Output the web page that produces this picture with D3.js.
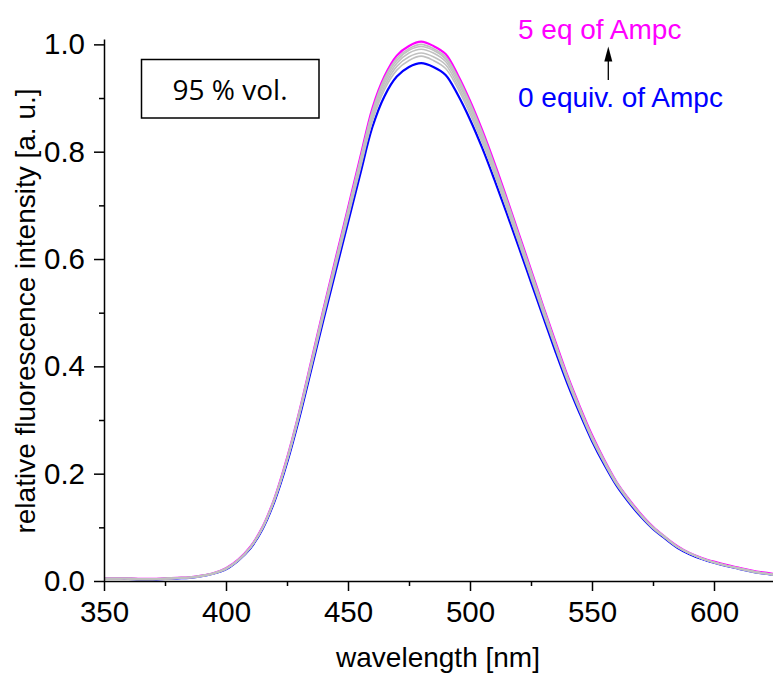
<!DOCTYPE html>
<html>
<head>
<meta charset="utf-8">
<script src="https://cdn.jsdelivr.net/npm/d3@7"></script>
<style>
  html, body { margin: 0; padding: 0; background: #fff; }
  svg { display: block; }
  text { font-family: "Liberation Sans", Arial, sans-serif; }
</style>
</head>
<body>
<svg id="chart" width="773" height="675"></svg>
<script>
// Emission wavelengths (nm)
const wavelength = [350,355,360,365,370,375,380,385,390,395,
  400,405,410,415,420,425,430,435,440,445,
  450,455,460,465,470,475,480,485,490,495,
  500,505,510,515,520,525,530,535,540,545,
  550,555,560,565,570,575,580,585,590,595,
  600,605,610,615,620,625];

// 0 equiv. of Ampc
const eq0 = [0.004,0.004,0.004,0.003,0.003,0.004,0.005,0.006,0.009,0.014,
  0.022,0.038,0.061,0.097,0.150,0.220,0.303,0.395,0.488,0.578,
  0.668,0.758,0.846,0.904,0.940,0.958,0.965,0.958,0.943,0.906,
  0.860,0.807,0.748,0.686,0.622,0.557,0.492,0.428,0.367,0.312,
  0.261,0.217,0.178,0.147,0.120,0.097,0.079,0.062,0.050,0.041,
  0.034,0.028,0.023,0.018,0.014,0.011];

// intermediate additions
const step1 = [0.004,0.004,0.004,0.003,0.003,0.004,0.005,0.006,0.009,0.014,
  0.022,0.038,0.062,0.098,0.152,0.223,0.307,0.400,0.494,0.586,
  0.677,0.768,0.857,0.916,0.952,0.970,0.978,0.970,0.955,0.918,
  0.871,0.817,0.758,0.695,0.630,0.564,0.498,0.434,0.372,0.316,
  0.264,0.220,0.180,0.149,0.122,0.098,0.080,0.063,0.051,0.042,
  0.034,0.028,0.023,0.018,0.014,0.011];
const step2 = [0.004,0.004,0.004,0.003,0.003,0.004,0.005,0.006,0.009,0.014,
  0.023,0.039,0.062,0.099,0.153,0.224,0.309,0.403,0.498,0.590,
  0.681,0.773,0.863,0.922,0.959,0.977,0.984,0.977,0.962,0.924,
  0.877,0.823,0.763,0.700,0.634,0.568,0.502,0.437,0.374,0.318,
  0.266,0.221,0.182,0.150,0.122,0.099,0.081,0.063,0.051,0.042,
  0.035,0.029,0.023,0.018,0.014,0.011];
const step3 = [0.004,0.004,0.004,0.003,0.003,0.004,0.005,0.006,0.009,0.014,
  0.023,0.039,0.063,0.100,0.154,0.226,0.311,0.406,0.501,0.594,
  0.686,0.778,0.869,0.928,0.965,0.984,0.991,0.984,0.968,0.930,
  0.883,0.829,0.768,0.705,0.639,0.572,0.505,0.440,0.377,0.320,
  0.268,0.223,0.183,0.151,0.123,0.100,0.081,0.064,0.051,0.042,
  0.035,0.029,0.024,0.019,0.015,0.011];
const step4 = [0.005,0.005,0.005,0.004,0.004,0.005,0.006,0.007,0.010,0.015,
  0.023,0.039,0.063,0.100,0.155,0.227,0.313,0.408,0.504,0.596,
  0.689,0.782,0.873,0.933,0.970,0.989,0.996,0.989,0.973,0.935,
  0.888,0.833,0.772,0.708,0.642,0.575,0.508,0.442,0.379,0.322,
  0.269,0.224,0.184,0.152,0.124,0.100,0.082,0.064,0.052,0.042,
  0.035,0.029,0.024,0.019,0.015,0.012];
const step5 = [0.005,0.005,0.005,0.004,0.004,0.005,0.006,0.007,0.010,0.015,
  0.024,0.039,0.063,0.100,0.155,0.228,0.314,0.409,0.506,0.599,
  0.692,0.785,0.876,0.937,0.974,0.992,1.000,0.992,0.977,0.939,
  0.891,0.836,0.775,0.711,0.644,0.577,0.510,0.443,0.380,0.323,
  0.270,0.225,0.184,0.152,0.124,0.100,0.082,0.064,0.052,0.042,
  0.035,0.029,0.024,0.019,0.015,0.012];

// 5 eq of Ampc
const eq5 = [0.005,0.005,0.005,0.004,0.004,0.005,0.006,0.007,0.010,0.015,
  0.024,0.040,0.064,0.101,0.156,0.229,0.315,0.411,0.508,0.602,
  0.695,0.789,0.881,0.941,0.979,0.997,1.005,0.997,0.982,0.943,
  0.895,0.840,0.779,0.714,0.647,0.580,0.512,0.446,0.382,0.325,
  0.272,0.226,0.185,0.153,0.125,0.101,0.082,0.065,0.052,0.043,
  0.036,0.030,0.025,0.020,0.016,0.013];

// Axis ticks
const xMajor = [350, 400, 450, 500, 550, 600];
const xMinor = [375, 425, 475, 525, 575, 625];
const yMajor = [0.0, 0.2, 0.4, 0.6, 0.8, 1.0];
const yMinor = [0.1, 0.3, 0.5, 0.7, 0.9];

const xTitle = "wavelength [nm]";
const yTitle = "relative fluorescence intensity [a. u.]";
const labelTop = "5 eq of Ampc";
const labelBottom = "0 equiv. of Ampc";
const boxLabel = "95 % vol.";

const svg = d3.select("#chart");
const x = d3.scaleLinear().domain([350, 625]).range([104, 775]);
const y = d3.scaleLinear().domain([0, 1.01]).range([581, 39]);

const FS = 28;
const TICK_FS = 29.5;

// plot clip
svg.append("clipPath").attr("id", "plotClip")
  .append("rect").attr("x", 104).attr("y", 0).attr("width", 669).attr("height", 581);

// series: draw order blue, magenta, then grey steps
const series = [
  { values: eq0, color: "#0000ff", width: 2.2 },
  { values: eq5, color: "#ff00ff", width: 2.2 },
  { values: step1, color: "#c0c0c0", width: 1.6 },
  { values: step2, color: "#c0c0c0", width: 1.6 },
  { values: step3, color: "#c0c0c0", width: 1.6 },
  { values: step4, color: "#c0c0c0", width: 1.6 },
  { values: step5, color: "#c0c0c0", width: 1.6 }
];

const line = d3.line()
  .x((d, i) => x(wavelength[i]))
  .y(d => y(d))
  .curve(d3.curveCatmullRom.alpha(0.5));

const gLines = svg.append("g").attr("clip-path", "url(#plotClip)");
series.forEach(s => {
  gLines.append("path")
    .datum(s.values)
    .attr("fill", "none")
    .attr("stroke", s.color)
    .attr("stroke-width", s.width)
    .attr("stroke-linejoin", "round")
    .attr("d", line);
});

// X axis
const xAxis = svg.append("g").attr("transform", "translate(0,581)");
xAxis.call(d3.axisBottom(x).tickValues(xMajor).tickSize(10).tickSizeOuter(0)
  .tickFormat(d3.format("d")).tickPadding(10));
xAxis.append("g").call(d3.axisBottom(x).tickValues(xMinor).tickSize(5).tickFormat(""))
  .select(".domain").remove();
xAxis.selectAll("path, line").attr("stroke", "#000").attr("stroke-width", 1.5);
xAxis.selectAll("text").attr("font-size", TICK_FS).attr("fill", "#000")
  .attr("font-family", "'Liberation Sans', Arial, sans-serif");

// Y axis
const yAxis = svg.append("g").attr("transform", "translate(104,0)");
yAxis.call(d3.axisLeft(y).tickValues(yMajor).tickSize(10).tickSizeOuter(0)
  .tickFormat(d3.format(".1f")).tickPadding(9));
yAxis.append("g").call(d3.axisLeft(y).tickValues(yMinor).tickSize(5).tickFormat(""))
  .select(".domain").remove();
yAxis.selectAll("path, line").attr("stroke", "#000").attr("stroke-width", 1.5);
yAxis.selectAll("text").attr("font-size", TICK_FS).attr("fill", "#000")
  .attr("font-family", "'Liberation Sans', Arial, sans-serif");

// Axis titles
svg.append("text")
  .attr("x", 438).attr("y", 667)
  .attr("text-anchor", "middle")
  .attr("font-size", FS)
  .text(xTitle);

svg.append("text")
  .attr("transform", "translate(35,311) rotate(-90)")
  .attr("text-anchor", "middle")
  .attr("font-size", FS)
  .text(yTitle);

// Boxed condition label
svg.append("rect")
  .attr("x", 141.5).attr("y", 59.5).attr("width", 177.5).attr("height", 58.5)
  .attr("fill", "none").attr("stroke", "#000").attr("stroke-width", 1.5);
svg.append("text")
  .attr("x", 230).attr("y", 100)
  .attr("text-anchor", "middle")
  .style("font-family", "'Open Sans', sans-serif")
  .attr("font-size", FS)
  .text(boxLabel);

// Titration labels and arrow
svg.append("text")
  .attr("x", 518).attr("y", 38.5)
  .attr("font-size", FS).attr("fill", "#ff00ff")
  .text(labelTop);
svg.append("text")
  .attr("x", 518).attr("y", 106.5)
  .attr("font-size", FS).attr("fill", "#0000ff")
  .text(labelBottom);

svg.append("line")
  .attr("x1", 608.3).attr("y1", 80).attr("x2", 608.3).attr("y2", 58)
  .attr("stroke", "#000").attr("stroke-width", 1.3);
svg.append("path")
  .attr("d", "M608.3,46.5 L612.3,61.5 L604.3,61.5 Z")
  .attr("fill", "#000");
</script>
</body>
</html>
